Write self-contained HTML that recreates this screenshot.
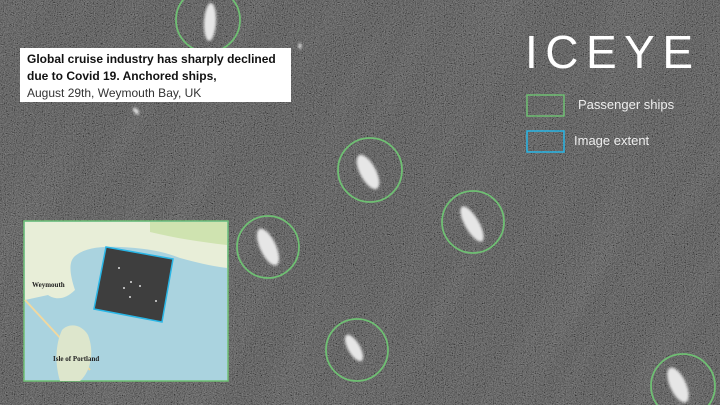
<!DOCTYPE html>
<html><head><meta charset="utf-8"><style>
html,body{margin:0;padding:0;width:720px;height:405px;overflow:hidden;background:#4c4c4c}
svg{display:block;position:absolute;left:0;top:0}
</style></head><body>
<svg width="720" height="405" viewBox="0 0 720 405">
<defs>
<filter id="noise" x="0" y="0" width="100%" height="100%">
<feTurbulence type="fractalNoise" baseFrequency="0.9" numOctaves="2" seed="3"/>
<feColorMatrix type="matrix" values="0.33 0.33 0.33 0 0  0.33 0.33 0.33 0 0  0.33 0.33 0.33 0 0  0 0 0 0 1"/>
<feComponentTransfer><feFuncR type="linear" slope="1.4" intercept="-0.45"/><feFuncG type="linear" slope="1.4" intercept="-0.45"/><feFuncB type="linear" slope="1.4" intercept="-0.45"/><feFuncA type="table" tableValues="0.5 0.5"/></feComponentTransfer>
</filter>
<filter id="streak" x="0" y="0" width="100%" height="100%">
<feTurbulence type="fractalNoise" baseFrequency="0.004 0.03" numOctaves="2" seed="7"/>
<feColorMatrix type="matrix" values="0 0 0 0 1  0 0 0 0 1  0 0 0 0 1  0.6 0 0 0 -0.25"/>
</filter>
<filter id="blur"><feGaussianBlur stdDeviation="1.2"/></filter>
</defs>
<rect width="720" height="405" fill="#4a4a4a"/>
<g transform="rotate(-62 360 200)"><rect x="-300" y="-300" width="1400" height="1000" filter="url(#streak)" opacity="0.25"/></g>
<rect width="720" height="405" filter="url(#noise)"/>

<g fill="#e6e6e6" filter="url(#blur)">
<ellipse cx="210" cy="22" rx="6" ry="19" transform="rotate(3 210 22)"/>
<ellipse cx="368" cy="172" rx="8" ry="19" transform="rotate(-28 368 172)"/>
<ellipse cx="268" cy="247" rx="8" ry="20" transform="rotate(-25 268 247)"/>
<ellipse cx="472" cy="224" rx="7" ry="20" transform="rotate(-30 472 224)"/>
<ellipse cx="354" cy="348" rx="6" ry="15" transform="rotate(-30 354 348)"/>
<ellipse cx="678" cy="385" rx="8" ry="19" transform="rotate(-25 678 385)"/>
<ellipse cx="136" cy="111" rx="2" ry="4" transform="rotate(-40 136 111)"/>
<ellipse cx="300" cy="46" rx="1.5" ry="3"/>
</g>
<g fill="none" stroke="#6fbf73" stroke-width="1.8">
<circle cx="208" cy="20" r="32"/>
<circle cx="370" cy="170" r="32"/>
<circle cx="268" cy="247" r="31"/>
<circle cx="473" cy="222" r="31"/>
<circle cx="357" cy="350" r="31"/>
<circle cx="683" cy="386" r="32"/>
</g>

<g>
<rect x="20" y="48" width="271" height="54" fill="#fff"/>
<text x="27" y="63" font-family="Liberation Sans,sans-serif" font-size="12" font-weight="bold" fill="#111">Global cruise industry has sharply declined</text>
<text x="27" y="80" font-family="Liberation Sans,sans-serif" font-size="12" font-weight="bold" fill="#111">due to Covid 19. Anchored ships,</text>
<text x="27" y="97" font-family="Liberation Sans,sans-serif" font-size="12" fill="#333">August 29th, Weymouth Bay, UK</text>
</g>

<text x="525" y="68" font-family="Liberation Sans,sans-serif" font-size="46" fill="#fff" textLength="168" lengthAdjust="spacing">ICEYE</text>

<g>
<rect x="527" y="95" width="37" height="21" fill="none" stroke="#6fbf73" stroke-width="1.5"/>
<text x="578" y="109" font-family="Liberation Sans,sans-serif" font-size="13" fill="#eee">Passenger ships</text>
<rect x="527" y="131" width="37" height="21" fill="none" stroke="#29b6e6" stroke-width="1.5"/>
<text x="574" y="145" font-family="Liberation Sans,sans-serif" font-size="13" fill="#eee">Image extent</text>
</g>

<g>
<rect x="24" y="221" width="204" height="160" fill="#aad3df" stroke="#6fbf73" stroke-width="1.5"/>
<path d="M25 222 H227 V268 C210 266 195 262 180 258 C160 250 140 248 120 247 C100 246 85 248 75 256 C68 262 70 275 75 290 C65 300 55 300 48 295 L25 300 Z" fill="#e8eed8"/>
<path d="M150 222 H227 V245 C200 242 175 238 150 232 Z" fill="#cfe3b0"/>
<path d="M25 300 L90 370" stroke="#f0d8a0" stroke-width="2"/>
<path d="M62 330 C70 322 82 325 88 335 C94 350 92 370 80 381 H60 C55 365 55 345 62 330 Z" fill="#dde6cc"/>
<polygon points="106,247 173,259 162,322 94,309" fill="#3e3e3e" stroke="#29b6e6" stroke-width="1.5"/>
<g fill="#ddd"><circle cx="119" cy="268" r="1"/><circle cx="124" cy="288" r="1"/><circle cx="131" cy="282" r="1"/><circle cx="140" cy="286" r="1"/><circle cx="130" cy="297" r="1"/><circle cx="156" cy="301" r="1"/></g>
<text x="32" y="287" font-family="Liberation Serif,serif" font-size="7" font-weight="bold" fill="#222">Weymouth</text>
<text x="53" y="361" font-family="Liberation Serif,serif" font-size="7" font-weight="bold" fill="#222">Isle of Portland</text>
</g>
</svg>
</body></html>
